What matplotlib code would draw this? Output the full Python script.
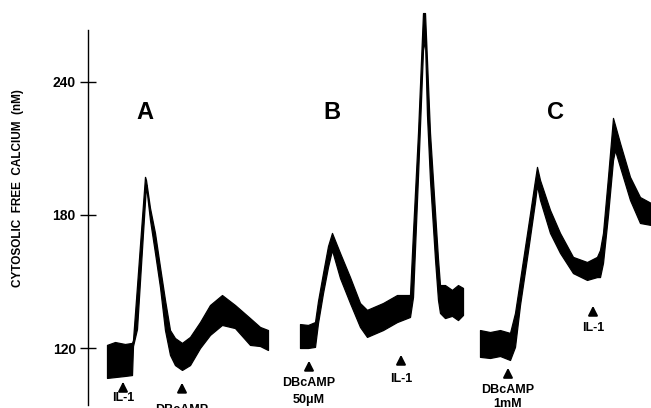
"""Cytosolic free calcium traces (A, B, C) redrawn with matplotlib."""

import matplotlib
matplotlib.use("Agg")
import matplotlib.pyplot as plt

# time axis is arbitrary (seconds-ish), values in nM
# each trace is a noisy band -> upper and lower envelope
a_t = [19, 27, 37, 44, 45, 49, 53, 57, 58, 62, 67, 72, 77, 82, 87, 94,
       102, 112, 122, 134, 147, 162, 172, 180]
a_hi = [121.4, 122.7, 121.8, 122.3, 123.6, 148.0, 172.8, 197.2, 195.8,
        183.2, 171.9, 156.6, 141.7, 128.1, 124.5, 122.3, 125.0, 131.7,
        139.4, 143.9, 139.4, 133.5, 129.5, 128.1]
a_lo = [106.5, 106.9, 107.4, 107.8, 120.9, 128.6, 157.5, 186.3, 193.5,
        177.8, 162.9, 147.5, 128.1, 116.9, 112.3, 110.1, 112.3, 120.0,
        125.9, 130.4, 129.0, 121.4, 120.9, 119.1]

b_t = [212, 220, 227, 230, 235, 240, 244, 252, 262, 272, 279, 295, 309,
       322, 325, 330, 335, 337, 339, 342, 347, 350, 352, 357, 364, 370, 375]
b_hi = [130.8, 130.4, 131.7, 141.2, 153.8, 166.0, 171.9, 162.9, 152.0,
        140.3, 137.2, 140.3, 143.9, 143.9, 172.3, 217.0, 271.1, 271.1,
        249.5, 217.0, 181.4, 160.2, 148.4, 148.4, 146.2, 148.4, 147.1]
b_lo = [120.0, 120.0, 120.5, 131.3, 144.8, 156.6, 164.2, 151.6, 140.3,
        129.5, 125.0, 128.1, 131.7, 134.0, 143.0, 197.6, 254.4, 259.0,
        225.1, 195.8, 160.2, 141.7, 135.8, 133.5, 134.5, 132.6, 134.9]

c_t = [392, 402, 412, 422, 427, 432, 440, 447, 449, 452, 462, 472, 485,
       499, 509, 512, 515, 520, 525, 527, 532, 542, 552, 563]
c_hi = [128.1, 127.2, 128.1, 126.8, 135.8, 150.7, 174.6, 195.8, 201.7,
        195.8, 182.3, 171.9, 161.1, 158.8, 161.1, 164.2, 171.9, 197.2,
        223.8, 220.6, 212.5, 197.2, 188.1, 185.4]
c_lo = [116.0, 115.5, 116.4, 114.6, 120.5, 139.4, 163.8, 185.9, 193.5,
        186.8, 171.9, 162.9, 153.8, 150.7, 152.0, 152.0, 158.4, 180.0,
        204.8, 209.3, 201.7, 186.8, 176.4, 175.5]

# stimulus markers: (time, arrow tip, arrow base, label lines, label y's)
events = [
    (35, 106.0, 101.6, ["IL-1"], [97.6]),
    (94, 105.6, 100.2, ["DBcAMP"], [91.9]),
    (221, 115.5, 109.2, ["DBcAMP", "50\u03bcM"], [104.2, 96.6]),
    (313, 118.2, 113.2, ["IL-1"], [106.0]),
    (420, 112.3, 106.9, ["DBcAMP", "1mM"], [101.1, 94.6]),
    (505, 140.3, 134.9, ["IL-1"], [129.0]),
]

panels = [("A", 57), ("B", 244), ("C", 467)]
panel_y = 226.3

y_ticks = [120, 180, 240]

plt.rcParams['font.family'] = ['Liberation Sans', 'DejaVu Sans']

fig = plt.figure(figsize=(6.51, 4.08), dpi=100)
ax = fig.add_axes([88 / 651, 3 / 408, 563 / 651, 375 / 408])

for t, hi, lo in [(a_t, a_hi, a_lo), (b_t, b_hi, b_lo), (c_t, c_hi, c_lo)]:
    ax.fill_between(t, lo, hi, color='black', edgecolor='black',
                    linewidth=0.9, clip_on=False)

for t, tip, base, lines, ys in events:
    ax.annotate('', xy=(t, tip), xytext=(t, base),
                arrowprops=dict(arrowstyle='-|>,head_width=0.28,head_length=0.55',
                                color='black', lw=1.5))
    for txt, y in zip(lines, ys):
        ax.text(t, y, txt, ha='center', va='center', fontsize=9,
                fontweight='bold')

for letter, t in panels:
    ax.text(t, panel_y, letter, ha='center', va='center', fontsize=17,
            fontweight='bold')

ax.set_xlim(0, 563)
ax.set_ylim(94.29, 263.45)
ax.set_yticks(y_ticks)
ax.set_yticklabels([str(v) for v in y_ticks], fontsize=10, fontweight='bold')
ax.set_xticks([])
ax.tick_params(axis='y', direction='inout', length=11.5, width=1, pad=3)
for side in ['top', 'right', 'bottom']:
    ax.spines[side].set_visible(False)
ax.spines['left'].set_linewidth(1.0)

fig.text(18 / 651, 1 - 188 / 408, "CYTOSOLIC  FREE  CALCIUM  (nM)",
         rotation=90, ha='center', va='center', fontsize=8.5,
         fontweight='bold')

fig.savefig("out.png", dpi=100)
